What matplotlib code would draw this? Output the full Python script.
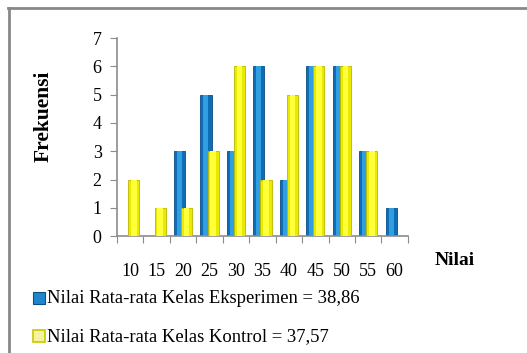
import numpy as np
import matplotlib
matplotlib.use('Agg')
import matplotlib.pyplot as plt
from matplotlib.patches import Rectangle
from matplotlib.lines import Line2D

categories = ['10', '15', '20', '25', '30', '35', '40', '45', '50', '55', '60']
eksperimen = [0, 0, 3, 5, 3, 6, 2, 6, 6, 3, 1]
kontrol = [2, 1, 1, 3, 6, 2, 5, 6, 6, 3, 0]
label_eks = 'Nilai Rata-rata Kelas Eksperimen = 38,86'
label_kon = 'Nilai Rata-rata Kelas Kontrol = 37,57'

plt.rcParams['font.family'] = ['Liberation Serif', 'DejaVu Serif']

fig = plt.figure(figsize=(5.27, 3.53), dpi=100)
ax = fig.add_axes([0.222, 0.331, 0.552, 0.561])

x = np.arange(len(categories))
w = 0.42
off = 0.135

# blue bars first, yellow drawn over them
ax.bar(x - off, eksperimen, w, color='#0f6db5', edgecolor='#0a4f86', linewidth=0.6, zorder=2)
ax.bar(x - off, eksperimen, w * 0.45, color='#2f9fe2', linewidth=0, zorder=2)
ax.bar(x + off, kontrol, w, color='#eaea00', edgecolor='#b9b900', linewidth=0.6, zorder=3)
ax.bar(x + off, kontrol, w * 0.5, color='#ffff3a', linewidth=0, zorder=3)

ax.set_xlim(-0.5, len(categories) - 0.5)
ax.set_ylim(0, 7)
ax.set_yticks(range(0, 8))
ax.tick_params(axis='y', labelsize=13, length=5, color='#8c8c8c', pad=6)

ax.set_xticks(np.arange(-0.5, len(categories), 1.0))
ax.set_xticklabels([])
ax.set_xticks(x, minor=True)
ax.set_xticklabels(categories, minor=True)
ax.tick_params(axis='x', which='major', length=5, color='#8c8c8c')
ax.tick_params(axis='x', which='minor', length=0, labelsize=13, pad=19)

for s in ['top', 'right']:
    ax.spines[s].set_visible(False)
for s in ['left', 'bottom']:
    ax.spines[s].set_color('#8c8c8c')
    ax.spines[s].set_linewidth(1.2)

fig.text(0.082, 0.671, 'Frekuensi', fontsize=15.5, fontweight='bold',
         rotation=90, ha='center', va='center')
fig.text(0.863, 0.262, 'Nilai', fontsize=14, fontweight='bold', ha='center', va='center')

# legend entries
fig.add_artist(Rectangle((0.063, 0.138), 0.022, 0.035, transform=fig.transFigure,
                         facecolor='#1f86cc', edgecolor='#0a4f86', linewidth=0.8))
fig.text(0.090, 0.155, label_eks, fontsize=13.4, va='center')
fig.add_artist(Rectangle((0.063, 0.030), 0.022, 0.035, transform=fig.transFigure,
                         facecolor='#f4f4a0', edgecolor='#c8c800', linewidth=1.2))
fig.text(0.090, 0.047, label_kon, fontsize=13.4, va='center')

# outer frame (left and top edges)
fig.add_artist(Line2D([0.017, 0.017], [0.0, 0.977], transform=fig.transFigure,
                      color='#888888', linewidth=2))
fig.add_artist(Line2D([0.016, 1.0], [0.977, 0.977], transform=fig.transFigure,
                      color='#888888', linewidth=2))

fig.savefig('out.png', dpi=100)
